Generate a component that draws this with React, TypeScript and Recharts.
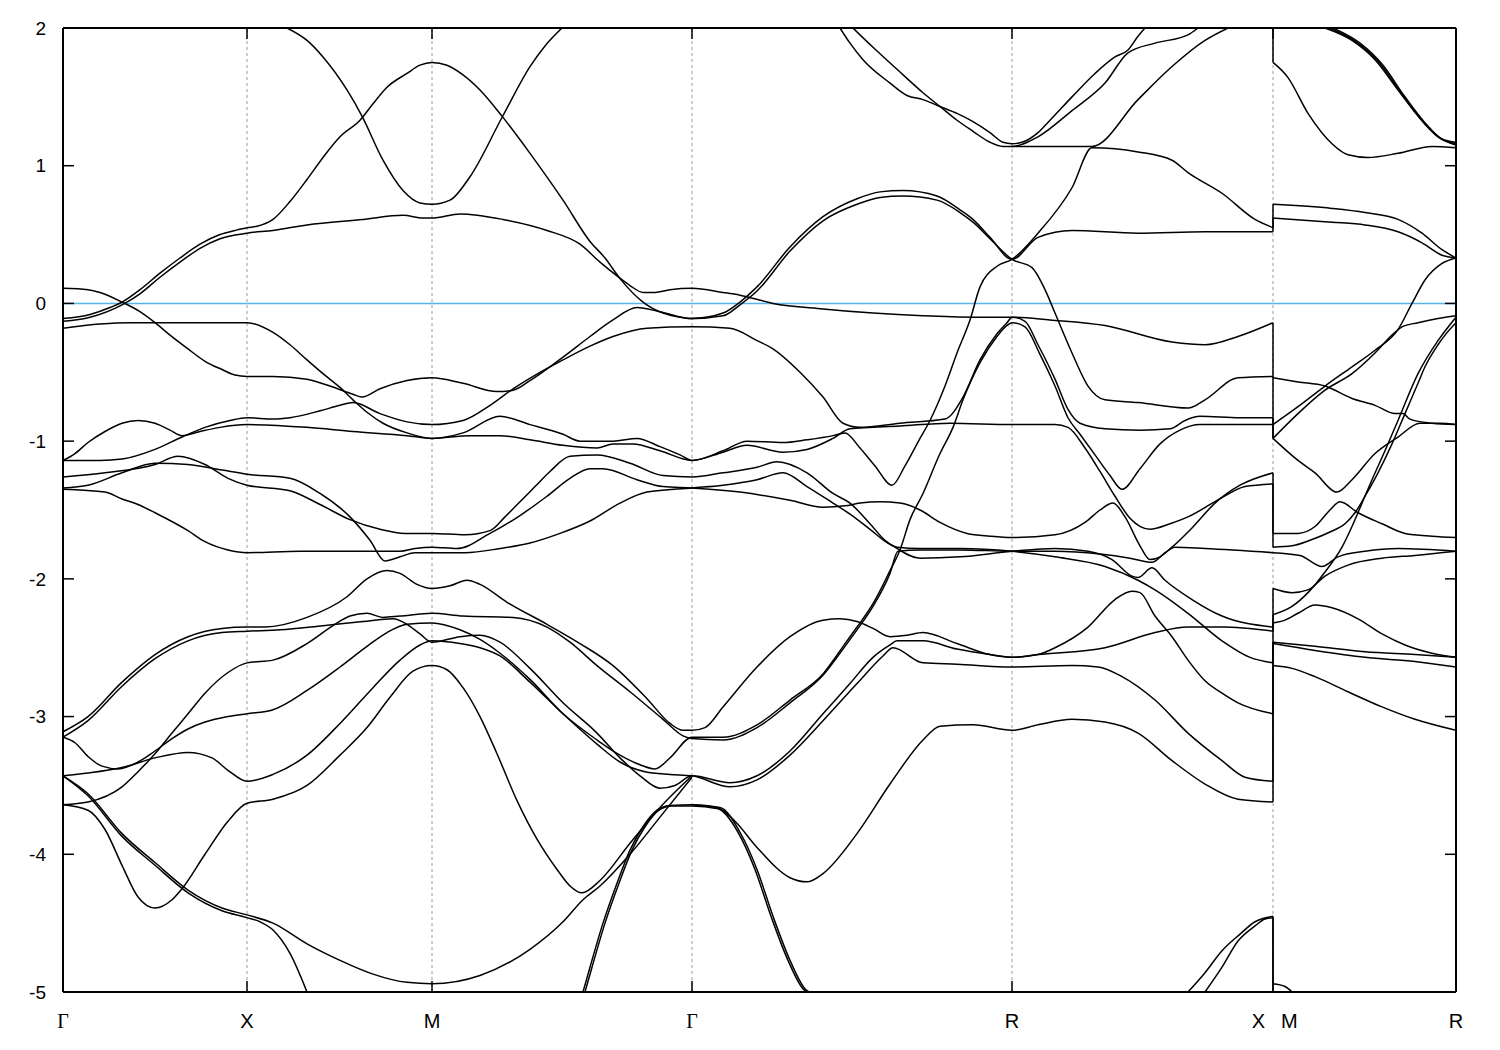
import React from 'react';
import { LineChart, Line, XAxis, YAxis, ReferenceLine } from 'recharts';

type P = [number, number];

// path coordinate origin of the raw k values below
const PATH0 = 63;
const symK = [0, 184, 369, 629, 949, 1210, 1393];
const symLabels = ['Γ', 'X', 'M', 'Γ', 'R', 'X|M', 'R'];
const eTicks = [-5, -4, -3, -2, -1, 0, 1, 2];

// ---------- bands (k, energy eV) ----------
const a1: P[] = [[63,-0.11],[90,-0.08],[110,-0.03],[122,0.01],[140,0.1],[160,0.22],[180,0.33],[200,0.43],[220,0.5],[235,0.53],[247,0.55],[257,0.56],[273,0.61],[290,0.74],[307,0.9],[323,1.06],[340,1.21],[360,1.33],[373,1.45],[387,1.57],[407,1.67],[420,1.73],[432,1.75],[447,1.73],[463,1.66],[480,1.55],[502,1.36],[530,1.09],[563,0.75],[590,0.45],[605,0.33],[620,0.18],[643,0.01],[663,-0.07],[680,-0.1],[692,-0.11],[723,-0.07],[740,0.01],[757,0.12],[790,0.41],[823,0.63],[857,0.76],[880,0.81],[903,0.82],[937,0.78],[960,0.68],[973,0.61],[990,0.48],[1012,0.32],[1038,0.48],[1072,0.53],[1138,0.51],[1205,0.52],[1273,0.52]];
const a2: P[] = [[63,-0.13],[90,-0.1],[122,-0.01],[140,0.07],[160,0.19],[180,0.3],[200,0.4],[220,0.47],[247,0.51],[273,0.53],[307,0.57],[363,0.61],[403,0.64],[423,0.62],[432,0.62],[460,0.65],[503,0.61],[547,0.53],[580,0.43],[600,0.3],[617,0.2],[630,0.13],[643,0.08],[655,0.08],[670,0.1],[692,0.11],[723,0.08],[740,0.06],[773,0.0],[823,-0.04],[873,-0.07],[923,-0.09],[973,-0.1],[1012,-0.1],[1050,-0.12],[1105,-0.16],[1172,-0.28],[1205,-0.3],[1238,-0.24],[1273,-0.14]];
const bB: P[] = [[63,0.11],[88,0.1],[100,0.08],[122,0.01],[140,-0.06],[155,-0.14],[170,-0.23],[188,-0.33],[205,-0.42],[222,-0.48],[235,-0.52],[247,-0.53],[273,-0.53],[307,-0.55],[330,-0.6],[353,-0.66],[362,-0.68],[380,-0.62],[407,-0.56],[432,-0.54],[463,-0.58],[497,-0.64],[513,-0.63],[530,-0.56],[563,-0.39],[590,-0.24],[613,-0.12],[637,-0.03],[660,-0.06],[692,-0.11],[723,-0.09],[740,-0.01],[757,0.09],[790,0.38],[823,0.6],[857,0.72],[880,0.77],[903,0.78],[937,0.75],[960,0.66],[973,0.59],[990,0.47],[1012,0.32],[1032,0.26],[1045,0.1],[1055,-0.07],[1072,-0.36],[1088,-0.6],[1105,-0.7],[1138,-0.72],[1188,-0.76],[1205,-0.7],[1238,-0.54],[1273,-0.53]];
const bF: P[] = [[63,-0.18],[100,-0.15],[130,-0.14],[190,-0.14],[247,-0.14],[273,-0.21],[290,-0.3],[307,-0.41],[323,-0.51],[340,-0.61],[353,-0.7],[367,-0.79],[383,-0.87],[407,-0.94],[432,-0.98],[463,-0.94],[500,-0.82],[530,-0.88],[563,-0.95],[580,-1.0],[613,-1.0],[637,-0.98],[660,-1.04],[680,-1.1],[692,-1.14],[723,-1.07],[747,-1.0],[783,-1.01],[807,-0.99],[833,-0.96],[845,-0.94],[860,-1.05],[875,-1.18],[892,-1.32],[905,-1.18],[920,-0.98],[930,-0.85],[945,-0.6],[957,-0.36],[970,-0.12],[980,0.12],[997,0.27],[1012,0.32],[1038,0.51],[1072,0.84],[1092,1.13],[1138,1.1],[1172,1.04],[1188,0.95],[1222,0.8],[1255,0.61],[1273,0.55]];
const c5a: P[] = [[63,-1.14],[75,-1.09],[88,-1.01],[105,-0.93],[122,-0.87],[138,-0.85],[155,-0.87],[170,-0.92],[182,-0.96],[200,-0.93],[220,-0.9],[247,-0.88],[307,-0.9],[353,-0.93],[407,-0.96],[432,-0.98],[470,-0.96],[500,-0.96],[530,-0.99],[563,-1.03],[597,-1.05],[613,-1.02],[633,-1.02],[660,-1.07],[692,-1.14],[723,-1.08],[747,-1.03],[783,-1.08],[807,-1.06],[833,-0.98],[850,-0.91],[900,-0.89],[950,-0.87],[1012,-0.88],[1055,-0.88],[1068,-0.9],[1085,-1.05],[1100,-1.22],[1115,-1.4],[1130,-1.56],[1150,-1.64],[1170,-1.6],[1188,-1.55],[1222,-1.41],[1245,-1.33],[1273,-1.31]];
const c5b: P[] = [[63,-1.14],[100,-1.14],[122,-1.13],[155,-1.06],[182,-0.97],[205,-0.9],[230,-0.85],[247,-0.83],[273,-0.84],[290,-0.83],[320,-0.78],[340,-0.74],[353,-0.72],[380,-0.8],[407,-0.86],[432,-0.88],[463,-0.85],[490,-0.74],[513,-0.62],[540,-0.5],[563,-0.41],[590,-0.31],[613,-0.24],[647,-0.18],[692,-0.17],[730,-0.18],[757,-0.27],[773,-0.33],[800,-0.5],[823,-0.68],[843,-0.87],[860,-0.9],[900,-0.87],[945,-0.84],[963,-0.68],[980,-0.41],[997,-0.22],[1007,-0.14],[1012,-0.1],[1025,-0.13],[1038,-0.3],[1055,-0.55],[1068,-0.77],[1080,-0.87],[1105,-0.91],[1140,-0.92],[1170,-0.91],[1185,-0.85],[1200,-0.82],[1240,-0.83],[1273,-0.83]];
const c6: P[] = [[63,-1.26],[105,-1.23],[155,-1.17],[178,-1.11],[205,-1.17],[228,-1.27],[247,-1.32],[290,-1.36],[320,-1.46],[350,-1.57],[380,-1.64],[405,-1.67],[432,-1.67],[465,-1.68],[490,-1.65],[505,-1.55],[520,-1.44],[535,-1.33],[550,-1.22],[570,-1.11],[597,-1.1],[630,-1.16],[663,-1.25],[692,-1.26],[723,-1.23],[757,-1.19],[777,-1.15],[807,-1.23],[833,-1.38],[850,-1.45],[870,-1.6],[885,-1.72],[895,-1.77],[920,-1.85],[960,-1.84],[1012,-1.8],[1055,-1.78],[1088,-1.8],[1112,-1.86],[1132,-1.98],[1138,-1.99],[1152,-1.92],[1165,-2.01],[1192,-2.15],[1222,-2.27],[1273,-2.35]];
const c7: P[] = [[63,-1.34],[88,-1.32],[122,-1.23],[155,-1.16],[188,-1.17],[222,-1.21],[247,-1.24],[290,-1.27],[320,-1.38],[350,-1.55],[370,-1.72],[385,-1.87],[400,-1.84],[415,-1.81],[432,-1.81],[465,-1.81],[500,-1.78],[530,-1.74],[560,-1.67],[590,-1.58],[620,-1.45],[647,-1.37],[692,-1.34],[723,-1.32],[757,-1.28],[783,-1.23],[807,-1.33],[833,-1.45],[850,-1.53],[870,-1.64],[890,-1.75],[897,-1.77],[920,-1.78],[960,-1.78],[1012,-1.8],[1055,-1.84],[1105,-1.91],[1138,-2.01],[1155,-2.08],[1188,-2.25],[1222,-2.45],[1250,-2.57],[1273,-2.61]];
const c8: P[] = [[63,-1.35],[105,-1.37],[122,-1.42],[138,-1.46],[155,-1.52],[188,-1.65],[205,-1.73],[228,-1.79],[247,-1.81],[300,-1.8],[360,-1.8],[400,-1.8],[415,-1.78],[432,-1.77],[457,-1.78],[490,-1.67],[520,-1.54],[547,-1.4],[570,-1.27],[590,-1.2],[603,-1.2],[637,-1.28],[663,-1.33],[692,-1.34],[740,-1.37],[790,-1.43],[823,-1.48],[845,-1.47],[860,-1.45],[880,-1.44],[900,-1.45],[920,-1.5],[940,-1.59],[967,-1.67],[990,-1.69],[1012,-1.7],[1055,-1.68],[1085,-1.59],[1100,-1.5],[1113,-1.45],[1125,-1.55],[1140,-1.76],[1150,-1.86],[1160,-1.84],[1172,-1.77],[1192,-1.63],[1215,-1.45],[1240,-1.32],[1273,-1.23]];
const c9: P[] = [[63,-3.11],[88,-3.0],[122,-2.75],[155,-2.55],[188,-2.42],[222,-2.36],[247,-2.35],[265,-2.35],[307,-2.28],[347,-2.13],[367,-2.0],[387,-1.94],[400,-1.96],[417,-2.04],[432,-2.07],[450,-2.05],[467,-2.01],[480,-2.04],[507,-2.17],[547,-2.33],[580,-2.47],[613,-2.63],[647,-2.87],[670,-3.05],[683,-3.1],[692,-3.1],[705,-3.08],[723,-2.93],[757,-2.64],[790,-2.42],[823,-2.3],[840,-2.29],[857,-2.31],[873,-2.36],[890,-2.42],[907,-2.41],[923,-2.39],[957,-2.47],[990,-2.55],[1012,-2.57],[1038,-2.55],[1105,-2.5],[1155,-2.39],[1188,-2.35],[1222,-2.35],[1273,-2.38]];
const c10: P[] = [[63,-3.15],[88,-3.03],[122,-2.78],[155,-2.58],[188,-2.45],[222,-2.39],[247,-2.38],[280,-2.37],[323,-2.34],[363,-2.31],[393,-2.29],[407,-2.33],[420,-2.4],[432,-2.46],[460,-2.42],[480,-2.41],[500,-2.46],[530,-2.65],[563,-2.9],[597,-3.12],[620,-3.3],[640,-3.43],[660,-3.52],[675,-3.5],[692,-3.43],[730,-3.48],[757,-3.43],[790,-3.25],[823,-2.98],[850,-2.76],[873,-2.57],[890,-2.48],[897,-2.45],[923,-2.45],[957,-2.51],[990,-2.55],[1012,-2.57],[1038,-2.55],[1055,-2.5],[1088,-2.35],[1115,-2.15],[1132,-2.09],[1140,-2.1],[1155,-2.27],[1172,-2.42],[1188,-2.59],[1205,-2.74],[1222,-2.83],[1238,-2.9],[1273,-2.98]];
const c15: P[] = [[63,-3.43],[88,-3.41],[122,-3.37],[155,-3.3],[188,-3.26],[212,-3.3],[228,-3.39],[247,-3.47],[273,-3.42],[307,-3.28],[340,-3.05],[373,-2.79],[400,-2.59],[420,-2.48],[432,-2.45],[460,-2.47],[480,-2.5],[500,-2.56],[530,-2.75],[563,-2.98],[597,-3.2],[620,-3.33],[645,-3.4],[670,-3.42],[692,-3.43],[730,-3.51],[757,-3.46],[790,-3.28],[823,-3.03],[857,-2.76],[883,-2.56],[893,-2.5],[923,-2.61],[957,-2.62],[1012,-2.64],[1072,-2.63],[1098,-2.64],[1122,-2.71],[1155,-2.88],[1188,-3.12],[1222,-3.32],[1245,-3.44],[1273,-3.47]];
const c16: P[] = [[63,-3.15],[75,-3.19],[88,-3.29],[102,-3.36],[118,-3.38],[138,-3.33],[155,-3.25],[172,-3.16],[188,-3.09],[205,-3.04],[228,-3.0],[247,-2.98],[273,-2.95],[307,-2.81],[340,-2.64],[367,-2.49],[387,-2.39],[407,-2.33],[432,-2.32],[460,-2.37],[480,-2.44],[500,-2.54],[530,-2.73],[563,-2.98],[597,-3.17],[620,-3.28],[640,-3.35],[655,-3.38],[670,-3.3],[692,-3.15],[723,-3.15],[757,-3.06],[790,-2.88],[823,-2.69],[847,-2.45],[857,-2.35],[873,-2.18],[890,-1.94],[900,-1.79],[910,-1.57],[923,-1.38],[940,-1.09],[953,-0.9],[963,-0.7],[980,-0.43],[997,-0.24],[1007,-0.16],[1012,-0.14],[1025,-0.17],[1040,-0.37],[1055,-0.6],[1068,-0.83],[1080,-0.95],[1095,-1.1],[1110,-1.25],[1122,-1.35],[1140,-1.2],[1160,-1.02],[1180,-0.92],[1200,-0.88],[1273,-0.88]];
const c14: P[] = [[63,-3.64],[88,-3.62],[122,-3.51],[138,-3.4],[155,-3.27],[172,-3.12],[188,-2.98],[205,-2.83],[228,-2.68],[247,-2.61],[273,-2.59],[307,-2.47],[333,-2.34],[350,-2.27],[367,-2.25],[383,-2.28],[400,-2.27],[432,-2.25],[463,-2.27],[513,-2.28],[547,-2.35],[570,-2.46],[597,-2.63],[630,-2.82],[663,-3.02],[683,-3.14],[692,-3.16],[723,-3.17],[757,-3.08],[790,-2.9],[823,-2.7],[847,-2.47],[857,-2.37],[873,-2.2],[890,-1.96],[898,-1.8],[920,-1.79],[960,-1.79],[1012,-1.8],[1055,-1.8],[1100,-1.82],[1130,-1.85],[1152,-1.88],[1165,-1.81],[1175,-1.77],[1205,-1.78],[1273,-1.81]];
const c13: P[] = [[63,-3.64],[88,-3.68],[105,-3.82],[122,-4.08],[138,-4.31],[155,-4.39],[172,-4.33],[182,-4.25],[205,-4.0],[228,-3.76],[247,-3.63],[273,-3.6],[307,-3.5],[340,-3.28],[367,-3.08],[390,-2.86],[413,-2.67],[432,-2.63],[447,-2.66],[463,-2.79],[480,-3.0],[497,-3.27],[517,-3.61],[537,-3.89],[557,-4.11],[570,-4.23],[582,-4.28],[600,-4.19],[630,-3.92],[660,-3.66],[692,-3.43]];
const c12a: P[] = [[63,-3.43],[88,-3.56],[122,-3.85],[155,-4.06],[188,-4.26],[222,-4.39],[247,-4.44],[273,-4.5],[307,-4.65],[340,-4.77],[373,-4.87],[407,-4.93],[432,-4.94],[480,-4.88],[530,-4.69],[563,-4.49],[583,-4.33],[600,-4.23],[630,-4.0],[660,-3.73],[692,-3.44]];
const c12b: P[] = [[63,-3.43],[88,-3.575],[122,-3.87],[155,-4.08],[188,-4.28],[222,-4.41],[247,-4.46],[260,-4.49],[273,-4.55],[290,-4.72],[307,-5.0]];
const dB: P[] = [[692,-3.64],[717,-3.66],[735,-3.76],[757,-3.95],[790,-4.17],[807,-4.2],[823,-4.14],[857,-3.85],[890,-3.49],[923,-3.17],[940,-3.07],[973,-3.06],[1012,-3.1],[1038,-3.06],[1072,-3.02],[1105,-3.04],[1138,-3.12],[1172,-3.32],[1205,-3.49],[1238,-3.6],[1273,-3.62]];
const k3a: P[] = [[583,-5.0],[590,-4.82],[603,-4.5],[617,-4.21],[630,-3.97],[643,-3.8],[657,-3.68],[670,-3.645],[692,-3.64],[720,-3.66],[740,-3.84],[757,-4.11],[773,-4.45],[790,-4.77],[807,-4.99],[810,-5.0]];
const k3b: P[] = [[585,-5.0],[592,-4.82],[605,-4.5],[619,-4.21],[632,-3.97],[645,-3.8],[659,-3.68],[672,-3.65],[692,-3.65],[718,-3.67],[738,-3.84],[755,-4.11],[771,-4.45],[788,-4.77],[805,-4.99],[808,-5.0]];
const t1: P[] = [[840,2.0],[850,1.89],[863,1.77],[890,1.6],[907,1.51],[923,1.48],[940,1.43],[957,1.38],[973,1.32],[990,1.24],[1003,1.17],[1012,1.16],[1022,1.17],[1038,1.24],[1050,1.33],[1072,1.5],[1095,1.67],[1115,1.79],[1128,1.84],[1138,1.94],[1145,2.0]];
const t2: P[] = [[853,2.0],[873,1.86],[897,1.7],[923,1.53],[940,1.43],[957,1.33],[973,1.25],[990,1.17],[1003,1.14],[1012,1.14],[1038,1.21],[1072,1.4],[1105,1.6],[1128,1.82],[1155,1.89],[1188,1.95],[1198,2.0]];
const t3: P[] = [[1012,1.14],[1050,1.14],[1092,1.14],[1138,1.48],[1172,1.72],[1205,1.91],[1228,2.0]];
const uB: P[] = [[287,2.0],[307,1.91],[323,1.79],[347,1.55],[362,1.36],[383,1.04],[403,0.82],[420,0.73],[432,0.72],[450,0.75],[470,0.92],[502,1.35],[530,1.72],[545,1.87],[562,2.0]];
const r12: P[] = [[1188,-5.0],[1205,-4.86],[1222,-4.7],[1240,-4.58],[1255,-4.49],[1273,-4.45]];
const r13: P[] = [[1205,-5.0],[1222,-4.82],[1238,-4.63],[1255,-4.52],[1265,-4.47],[1273,-4.46]];

// last segment M -> R
const m175: P[] = [[1273,1.75],[1288,1.64],[1308,1.38],[1332,1.16],[1348,1.08],[1368,1.06],[1398,1.09],[1432,1.14],[1456,1.13]];
const u1: P[] = [[1325,2.0],[1352,1.91],[1375,1.77],[1398,1.55],[1418,1.36],[1438,1.21],[1456,1.15]];
const u2: P[] = [[1329,2.0],[1356,1.9],[1379,1.75],[1401,1.53],[1421,1.34],[1440,1.2],[1456,1.16]];
const u3: P[] = [[1333,2.0],[1360,1.89],[1383,1.73],[1404,1.51],[1424,1.32],[1443,1.19],[1456,1.17]];
const m072: P[] = [[1273,0.72],[1332,0.69],[1365,0.66],[1398,0.61],[1422,0.51],[1442,0.39],[1456,0.33]];
const m062: P[] = [[1273,0.62],[1332,0.59],[1365,0.57],[1398,0.52],[1422,0.44],[1442,0.35],[1456,0.33]];
const m054: P[] = [[1273,-0.54],[1298,-0.57],[1325,-0.6],[1352,-0.69],[1375,-0.74],[1395,-0.8],[1403,-0.8],[1410,-0.84],[1432,-0.87],[1456,-0.88]];
const m088: P[] = [[1273,-0.88],[1298,-0.75],[1325,-0.6],[1352,-0.46],[1375,-0.34],[1398,-0.19],[1412,0.0],[1425,0.17],[1442,0.29],[1456,0.33]];
const m098a: P[] = [[1273,-0.98],[1298,-0.8],[1325,-0.63],[1352,-0.51],[1375,-0.36],[1392,-0.23],[1402,-0.17],[1418,-0.14],[1438,-0.11],[1456,-0.09]];
const m098b: P[] = [[1273,-0.98],[1298,-1.14],[1315,-1.23],[1337,-1.37],[1352,-1.28],[1375,-1.09],[1398,-0.97],[1420,-0.87],[1440,-0.87],[1456,-0.88]];
const n167: P[] = [[1273,-1.67],[1298,-1.67],[1315,-1.62],[1330,-1.5],[1340,-1.44],[1358,-1.52],[1382,-1.6],[1405,-1.67],[1432,-1.69],[1456,-1.7]];
const n177: P[] = [[1273,-1.77],[1292,-1.76],[1310,-1.72],[1330,-1.66],[1345,-1.6],[1355,-1.52],[1365,-1.4],[1378,-1.23],[1392,-1.02],[1405,-0.8],[1418,-0.58],[1425,-0.46],[1438,-0.3],[1445,-0.23],[1456,-0.14]];
const n181: P[] = [[1273,-1.81],[1300,-1.83],[1322,-1.91],[1338,-1.84],[1365,-1.8],[1398,-1.78],[1456,-1.8]];
const m226: P[] = [[1273,-2.26],[1292,-2.2],[1308,-2.1],[1325,-1.95],[1342,-1.77],[1352,-1.62],[1362,-1.45],[1372,-1.28],[1385,-1.07],[1398,-0.85],[1418,-0.51],[1438,-0.27],[1456,-0.1]];
const m207: P[] = [[1273,-2.07],[1292,-2.1],[1308,-2.08],[1325,-1.98],[1348,-1.9],[1382,-1.85],[1415,-1.83],[1456,-1.8]];
const m232: P[] = [[1273,-2.32],[1285,-2.3],[1298,-2.25],[1315,-2.19],[1332,-2.21],[1358,-2.29],[1382,-2.4],[1405,-2.48],[1432,-2.54],[1456,-2.57]];
const m246: P[] = [[1273,-2.46],[1315,-2.49],[1365,-2.53],[1415,-2.55],[1456,-2.57]];
const m247: P[] = [[1273,-2.47],[1315,-2.52],[1365,-2.57],[1415,-2.6],[1456,-2.64]];
const m263: P[] = [[1273,-2.63],[1292,-2.65],[1315,-2.71],[1348,-2.82],[1382,-2.93],[1415,-3.02],[1456,-3.1]];
const m494: P[] = [[1273,-4.94],[1285,-4.96],[1292,-5.0]];

// band energies on both sides of the X|M discontinuity
const jumpX = [2.0, 0.55, 0.52, -0.14, -0.53, -0.83, -0.88, -1.23, -1.31, -1.81, -2.35, -2.38, -2.61, -2.98, -3.47, -3.62, -4.45, -4.46];
const jumpM = [1.75, 0.72, 0.62, -0.54, -0.88, -0.98, -0.98, -1.67, -1.77, -1.81, -2.07, -2.26, -2.33, -2.46, -2.47, -2.63, -4.94, -5.0];

const bands: P[][] = [a1, a2, bB, bF, c5a, c5b, c6, c7, c8, c9, c10, c15, c16, c14, c13, c12a, c12b, dB, k3a, k3b, t1, t2, t3, uB, r12, r13,
  m175, u1, u2, u3, m072, m062, m054, m088, m098a, m098b, n167, n177, n181, m226, m207, m232, m246, m247, m263, m494];

const toRows = (b: P[]) => b.map(([k, e]) => ({ k: k - PATH0, e }));
const kMax = symK[symK.length - 1];
const kJump = symK[5];
const tickK = 11;
const tickE = 0.08;

function XTick(props: any) {
  const { x, y, payload } = props;
  const i = symK.indexOf(payload.value);
  const lab = symLabels[i];
  const base = y + 36;
  const sans = 'Liberation Sans, Arial, sans-serif';
  if (lab === 'X|M') {
    return (
      <g>
        <text x={x - 8} y={base} textAnchor="end" fontFamily={sans} fontSize={20} fill="#000">X</text>
        <text x={x + 8} y={base} textAnchor="start" fontFamily={sans} fontSize={20} fill="#000">M</text>
      </g>
    );
  }
  return (
    <text x={x} y={base} textAnchor="middle" fontFamily={lab === 'Γ' ? 'Liberation Serif, serif' : sans} fontSize={20} fill="#000">{lab}</text>
  );
}

export default function App() {
  return (
    <div style={{ width: 1492, height: 1034 }}>
      <LineChart width={1492} height={1034} margin={{ top: 20, right: 44, bottom: 0, left: 0 }}>
        <XAxis dataKey="k" type="number" domain={[0, kMax]} ticks={symK} allowDataOverflow height={50}
          axisLine={false} tickLine={false} tickSize={0} tickMargin={0} tick={<XTick />} interval={0} />
        <YAxis type="number" domain={[-5, 2]} ticks={eTicks} allowDataOverflow width={55}
          axisLine={false} tickLine={false} tickSize={0} tickMargin={17} interval={0}
          tick={{ fontSize: 19, fill: '#000', fontFamily: 'Liberation Sans, Arial, sans-serif' }} />
        {symK.slice(1, 6).map((k) => (
          <ReferenceLine key={'v' + k} x={k} stroke="#9a9a9a" strokeWidth={1} strokeDasharray="3 3" />
        ))}
        <ReferenceLine y={0} stroke="#56b4e9" strokeWidth={1.6} />
        {bands.map((b, i) => (
          <Line key={'b' + i} data={toRows(b)} dataKey="e" type="monotone" stroke="#000" strokeWidth={1.5}
            dot={false} activeDot={false} isAnimationActive={false} />
        ))}
        {jumpX.map((ex, i) => (
          <Line key={'j' + i} data={[{ k: kJump, e: ex }, { k: kJump, e: jumpM[i] }]} dataKey="e" type="linear"
            stroke="#000" strokeWidth={1.5} dot={false} activeDot={false} isAnimationActive={false} />
        ))}
        {eTicks.map((e) => (
          <ReferenceLine key={'tl' + e} segment={[{ x: 0, y: e }, { x: tickK, y: e }]} stroke="#000" strokeWidth={1.5} />
        ))}
        {eTicks.map((e) => (
          <ReferenceLine key={'tr' + e} segment={[{ x: kMax - tickK, y: e }, { x: kMax, y: e }]} stroke="#000" strokeWidth={1.5} />
        ))}
        {symK.map((k) => (
          <ReferenceLine key={'tb' + k} segment={[{ x: k, y: -5 }, { x: k, y: -5 + tickE }]} stroke="#000" strokeWidth={1.5} />
        ))}
        {symK.map((k) => (
          <ReferenceLine key={'tt' + k} segment={[{ x: k, y: 2 }, { x: k, y: 2 - tickE }]} stroke="#000" strokeWidth={1.5} />
        ))}
        <ReferenceLine y={2} stroke="#000" strokeWidth={2} />
        <ReferenceLine y={-5} stroke="#000" strokeWidth={2} />
        <ReferenceLine x={0} stroke="#000" strokeWidth={2} />
        <ReferenceLine x={kMax} stroke="#000" strokeWidth={2} />
      </LineChart>
    </div>
  );
}
